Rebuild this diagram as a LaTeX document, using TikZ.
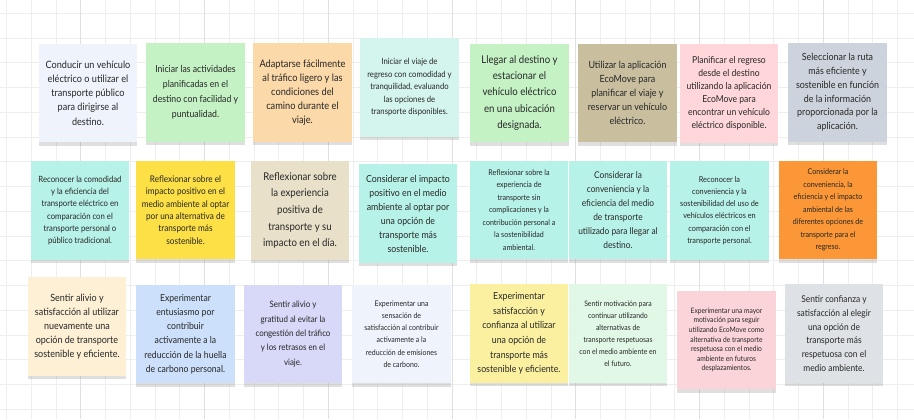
\documentclass[tikz,border=0pt]{standalone}
\usepackage{fontspec}
\setmainfont{Lato}[FakeStretch=0.9]
\usetikzlibrary{shadows}

\definecolor{gridc}{HTML}{EEEEEE}
\definecolor{gridm}{HTML}{E0E0E0}
\definecolor{cA}{HTML}{EEF3FC}
\definecolor{cB}{HTML}{C4F2C4}
\definecolor{cC}{HTML}{FCD9A8}
\definecolor{cD}{HTML}{D4F5EE}
\definecolor{cE}{HTML}{C9BE9E}
\definecolor{cF}{HTML}{FFD6D9}
\definecolor{cG}{HTML}{CDD3DC}
\definecolor{cH}{HTML}{B7F2E8}
\definecolor{cI}{HTML}{FCE045}
\definecolor{cJ}{HTML}{E8E0C8}
\definecolor{cK}{HTML}{FB9737}
\definecolor{cL}{HTML}{FDF0D5}
\definecolor{cM}{HTML}{CCE0FB}
\definecolor{cN}{HTML}{D8D8F8}
\definecolor{cO}{HTML}{FAF0A0}
\definecolor{cP}{HTML}{E0F8E5}
\definecolor{cQ}{HTML}{FAD4D8}
\definecolor{cR}{HTML}{DEE1E5}
\newcommand\notefont[2]{\fontsize{#1}{#2}\selectfont}

\begin{document}
\begin{tikzpicture}[x=0.75pt, y=-0.75pt,
    note/.style={minimum width=74pt, minimum height=74pt, align=center, inner sep=1pt, text=black!85,
        drop shadow={shadow xshift=0pt, shadow yshift=-2.5pt, opacity=0.25}},
    gridln/.style={draw=gridc, line width=0.7pt},
    gridmj/.style={draw=gridm, line width=0.8pt}
]
\useasboundingbox (0,0) rectangle (914,419);
\fill[white] (0,0) rectangle (914,419);
\foreach \gx in {6.7,31.45,...,910} \draw[gridln] (\gx,0) -- (\gx,419);
\foreach \gy in {13.3,38.05,...,415} \draw[gridln] (0,\gy) -- (914,\gy);
\foreach \gx in {80.95,204.7,...,910} \draw[gridmj] (\gx,0) -- (\gx,419);

% fila 1
\node[note, fill=cA, font=\notefont{7.6}{10.7}] (conducir) at (88,93) {Conducir un vehículo\\eléctrico o utilizar el\\transporte público\\para dirigirse al\\destino.};
\node[note, fill=cB, font=\notefont{7.25}{11.2}] (iniciar) at (195.5,92.5) {Iniciar las actividades\\planificadas en el\\destino con facilidad y\\puntualidad.};
\node[note, fill=cC, font=\notefont{7.7}{10.6}] (adaptar) at (302.5,92.5) {Adaptarse fácilmente\\al tráfico ligero y las\\condiciones del\\camino durante el\\viaje.};
\node[note, fill=cD, font=\notefont{6.4}{9.4}] (regreso) at (409.5,87.5) {Iniciar el viaje de\\regreso con comodidad y\\tranquilidad, evaluando\\las opciones de\\transporte disponibles.};
\node[note, fill=cB, font=\notefont{8}{12.2}] (llegar) at (519.5,93) {Llegar al destino y\\estacionar el\\vehículo eléctrico\\en una ubicación\\designada.};
\node[note, fill=cE, font=\notefont{7.45}{10.6}] (app) at (627.5,93) {Utilizar la aplicación\\EcoMove para\\planificar el viaje y\\reservar un vehículo\\eléctrico.};
\node[note, fill=cF, font=\notefont{7.15}{9.8}] (planif) at (729,93.5) {Planificar el regreso\\desde el destino\\utilizando la aplicación\\EcoMove para\\encontrar un vehículo\\eléctrico disponible.};
\node[note, fill=cG, font=\notefont{7.4}{10.3}] (ruta) at (837.5,92.5) {Seleccionar la ruta\\más eficiente y\\sostenible en función\\de la información\\proporcionada por la\\aplicación.};

% fila 2
\node[note, fill=cH, font=\notefont{6.45}{9.2}] (reconA) at (80,210.5) {Reconocer la comodidad\\y la eficiencia del\\transporte eléctrico en\\comparación con el\\transporte personal o\\público tradicional.};
\node[note, fill=cI, font=\notefont{6.85}{9.2}] (reflA) at (185.5,210) {Reflexionar sobre el\\impacto positivo en el\\medio ambiente al optar\\por una alternativa de\\transporte más\\sostenible.};
\node[note, fill=cJ, font=\notefont{8}{12.5}] (reflB) at (300,210.5) {Reflexionar sobre\\la experiencia\\positiva de\\transporte y su\\impacto en el día.};
\node[note, fill=cH, font=\notefont{7.3}{10.5}] (consA) at (408,213.5) {Considerar el impacto\\positivo en el medio\\ambiente al optar por\\una opción de\\transporte más\\sostenible.};
\node[note, fill=cH, font=\notefont{5.9}{9.4}] (reflC) at (519,210) {Reflexionar sobre la\\experiencia de\\transporte sin\\complicaciones y la\\contribución personal a\\la sostenibilidad\\ambiental.};
\node[note, fill=cH, font=\notefont{6.95}{10.6}] (consB) at (618,210) {Considerar la\\conveniencia y la\\eficiencia del medio\\de transporte\\utilizado para llegar al\\destino.};
\node[note, fill=cH, font=\notefont{6.1}{9.2}] (reconB) at (719.5,210.5) {Reconocer la\\conveniencia y la\\sostenibilidad del uso de\\vehículos eléctricos en\\comparación con el\\transporte personal.};
\node[note, fill=cK, font=\notefont{5.9}{9.4}] (consC) at (828,210) {Considerar la\\conveniencia, la\\eficiencia y el impacto\\ambiental de las\\diferentes opciones de\\transporte para el\\regreso.};

% fila 3
\node[note, fill=cL, font=\notefont{7.5}{10.6}] (alivA) at (77,326.5) {Sentir alivio y\\satisfacción al utilizar\\nuevamente una\\opción de transporte\\sostenible y eficiente.};
\node[note, fill=cM, font=\notefont{7.2}{10.7}] (expA) at (185.5,334) {Experimentar\\entusiasmo por\\contribuir\\activamente a la\\reducción de la huella\\de carbono personal.};
\node[note, fill=cN, font=\notefont{6.6}{10.8}] (alivB) at (293,334) {Sentir alivio y\\gratitud al evitar la\\congestión del tráfico\\y los retrasos en el\\viaje.};
\node[note, fill=cA, font=\notefont{5.8}{9.2}] (expB) at (401.5,334) {Experimentar una\\sensación de\\satisfacción al contribuir\\activamente a la\\reducción de emisiones\\de carbono.};
\node[note, fill=cO, font=\notefont{7.3}{10.9}] (expC) at (519,333.5) {Experimentar\\satisfacción y\\confianza al utilizar\\una opción de\\transporte más\\sostenible y eficiente.};
\node[note, fill=cP, font=\notefont{5.7}{9}] (motiv) at (618,333.5) {Sentir motivación para\\continuar utilizando\\alternativas de\\transporte respetuosas\\con el medio ambiente en\\el futuro.};
\node[note, fill=cQ, font=\notefont{5.55}{7.2}] (expD) at (726.5,340) {Experimentar una mayor\\motivación para seguir\\utilizando EcoMove como\\alternativa de transporte\\respetuosa con el medio\\ambiente en futuros\\desplazamientos.};
\node[note, fill=cR, font=\notefont{7}{10.3}] (confi) at (834,333.5) {Sentir confianza y\\satisfacción al elegir\\una opción de\\transporte más\\respetuosa con el\\medio ambiente.};
\end{tikzpicture}
\end{document}
